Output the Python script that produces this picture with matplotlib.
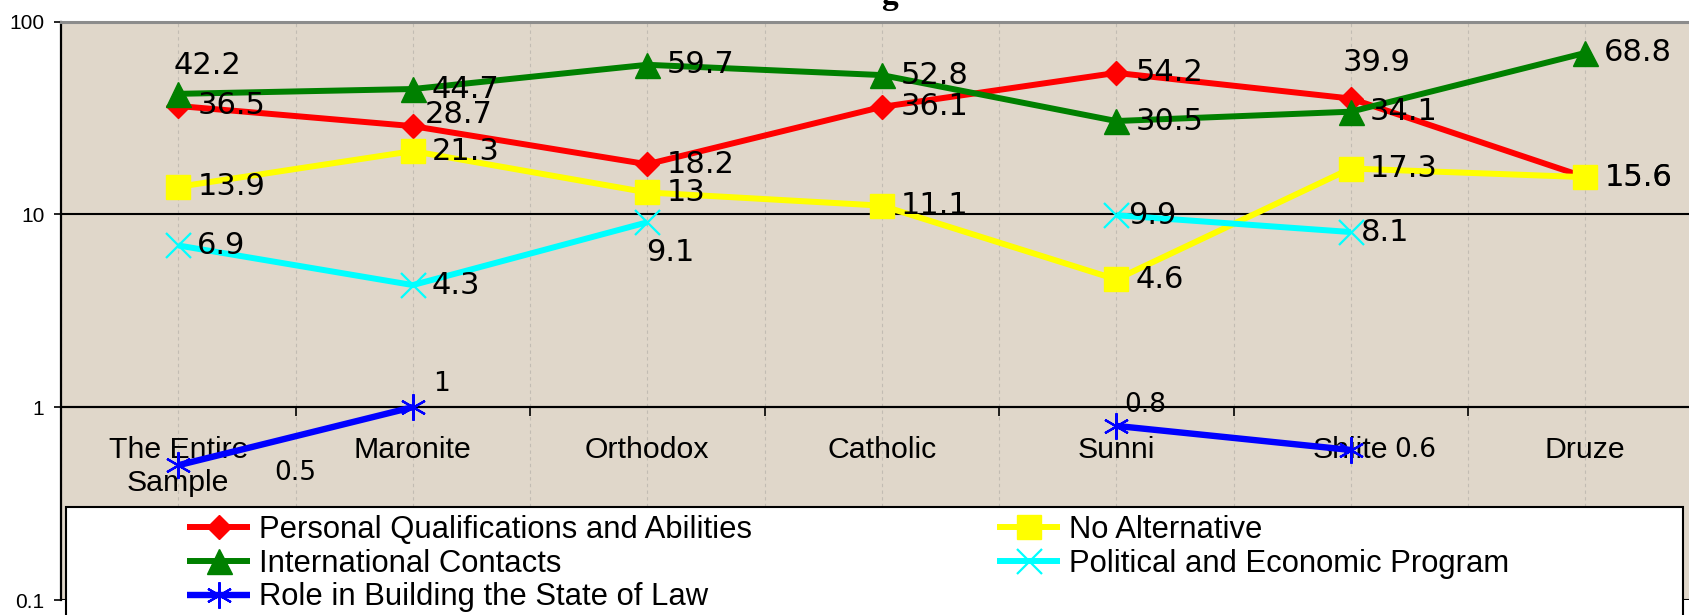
import numpy as np
import matplotlib
matplotlib.use("Agg")
import matplotlib.pyplot as plt
from matplotlib.patches import Rectangle
from matplotlib.ticker import NullLocator, FixedLocator, NullFormatter

# ---------------- data ----------------
categories = ["The Entire\nSample", "Maronite", "Orthodox", "Catholic", "Sunni", "Shiite", "Druze"]
personal = [36.5, 28.7, 18.2, 36.1, 54.2, 39.9, 15.6]
no_alternative = [13.9, 21.3, 13, 11.1, 4.6, 17.3, 15.6]
international = [42.2, 44.7, 59.7, 52.8, 30.5, 34.1, 68.8]
political = [6.9, 4.3, 9.1, np.nan, 9.9, 8.1, np.nan]
role = [0.5, 1, np.nan, np.nan, 0.8, 0.6, np.nan]
y_ticks = [0.1, 1, 10, 100]
y_tick_labels = ["0.1", "1", "10", "100"]

series = [
    ("Personal Qualifications and Abilities", personal),
    ("No Alternative", no_alternative),
    ("International Contacts", international),
    ("Political and Economic Program", political),
    ("Role in Building the State of Law", role),
]

# ---------------- styles ----------------
styles = {
    "Personal Qualifications and Abilities": dict(color="#ff0000", marker="D", ms=12.5, lw=4.3),
    "No Alternative": dict(color="#ffff00", marker="s", ms=17, lw=4.3),
    "International Contacts": dict(color="#008000", marker="^", ms=18, lw=4.3),
    "Political and Economic Program": dict(color="#00ffff", marker="x", ms=18, lw=4.3, mew=1.6),
    "Role in Building the State of Law": dict(color="#0000ff", marker=(6, 2, 0), ms=19, lw=4.6, mew=1.6),
}
label_size = {"Role in Building the State of Law": 19}
# label offsets in pixels (dx to left edge, dy to vertical centre)
default_offset = (19, 0)
label_offsets = {
    ("Personal Qualifications and Abilities", 1): (12, 12),
    ("Personal Qualifications and Abilities", 5): (-8, 36),
    ("International Contacts", 0): (-5, 28),
    ("Political and Economic Program", 2): (-1, -30),
    ("Political and Economic Program", 4): (12, 0),
    ("Political and Economic Program", 5): (10, 0),
    ("Role in Building the State of Law", 0): (96, -8),
    ("Role in Building the State of Law", 1): (20, 23),
    ("Role in Building the State of Law", 4): (8, 21),
    ("Role in Building the State of Law", 5): (43, 0),
}

W, H = 1690, 615
fig = plt.figure(figsize=(W / 100, H / 100), dpi=100)
ax = fig.add_axes([61 / W, 15 / H, 1641.5 / W, 578.4 / H])
ax.set_facecolor("#e0d7ca")
ax.set_yscale("log")
ax.set_ylim(0.1, 100)
ax.set_xlim(-0.5, len(categories) - 0.5)

x = np.arange(len(categories))

# axes frame
ax.spines["right"].set_visible(False)
ax.spines["top"].set_color("#8c8c8c")
ax.spines["top"].set_linewidth(2.2)
ax.spines["left"].set_color("black")
ax.spines["left"].set_linewidth(1.6)
ax.spines["bottom"].set_position(("data", 1))
ax.spines["bottom"].set_color("black")
ax.spines["bottom"].set_linewidth(1.5)

# x ticks: boundaries (major, marks) and centres (minor, labels)
ax.xaxis.set_major_locator(FixedLocator(np.arange(-0.5, len(categories), 1.0)))
ax.xaxis.set_major_formatter(NullFormatter())
ax.xaxis.set_minor_locator(FixedLocator(x))
ax.set_xticks(x, categories, minor=True)
ax.tick_params(axis="x", which="major", direction="out", length=6.5, width=1.2, color="black")
ax.tick_params(axis="x", which="minor", length=0, pad=21, labelsize=21.8)
for t in ax.get_xticklabels(minor=True):
    t.set_family("Liberation Sans")

# y ticks
ax.set_yticks(y_ticks, y_tick_labels)
ax.yaxis.set_minor_locator(NullLocator())
ax.tick_params(axis="y", which="major", direction="out", length=5, width=1.2, pad=7, labelsize=15)
for t in ax.get_yticklabels():
    t.set_family("Liberation Sans")

# grids
ax.set_axisbelow(True)
ax.grid(True, axis="x", which="both", color="#c2bcb3", linestyle=(0, (3, 3)), linewidth=0.8)
ax.grid(True, axis="y", which="major", color="black", linestyle="-", linewidth=1.5)

handles = {}
for z, (name, vals) in enumerate(series):
    st = styles[name]
    (ln,) = ax.plot(x, vals, color=st["color"], lw=st["lw"], marker=st["marker"],
                    ms=st["ms"], mew=st.get("mew", 1.0), mec=st["color"], mfc=st["color"],
                    label=name, zorder=3 + z, solid_capstyle="butt")
    handles[name] = ln
    for i, v in enumerate(vals):
        if np.isnan(v):
            continue
        dx, dy = label_offsets.get((name, i), default_offset)
        ax.annotate(f"{v:g}", xy=(x[i], v), xytext=(dx, dy), textcoords="offset pixels",
                    ha="left", va="center", fontsize=label_size.get(name, 22),
                    family="DejaVu Sans", color="black", zorder=10, annotation_clip=False)

# legend box
fig.add_artist(Rectangle((66 / W, -0.05), (1683 - 66) / W, (615 - 507) / H + 0.05,
                         transform=fig.transFigure, facecolor="white", edgecolor="black",
                         linewidth=1.5, zorder=10, clip_on=False))

leg_kw = dict(loc="upper left", bbox_transform=fig.transFigure, frameon=False,
              borderpad=0, borderaxespad=0, handlelength=2.05, handletextpad=0.26,
              labelspacing=0.12, numpoints=1,
              prop={"family": "Liberation Sans", "size": 22.3})
leg1 = fig.legend(handles=[handles[n] for n in ["Personal Qualifications and Abilities",
                                                 "International Contacts",
                                                 "Role in Building the State of Law"]],
                  bbox_to_anchor=(187 / W, 1 - 515 / H), **leg_kw)
leg1.set_zorder(11)
leg2 = fig.legend(handles=[handles[n] for n in ["No Alternative",
                                                 "Political and Economic Program"]],
                  bbox_to_anchor=(997 / W, 1 - 515 / H), **leg_kw)
leg2.set_zorder(11)

# cut-off title fragment at the very top
fig.text(890 / W, 1 - 4 / H, "g", ha="center", va="baseline", fontsize=24,
         fontweight="bold", family="Liberation Serif")

fig.savefig("out.png", dpi=100, facecolor="white")
